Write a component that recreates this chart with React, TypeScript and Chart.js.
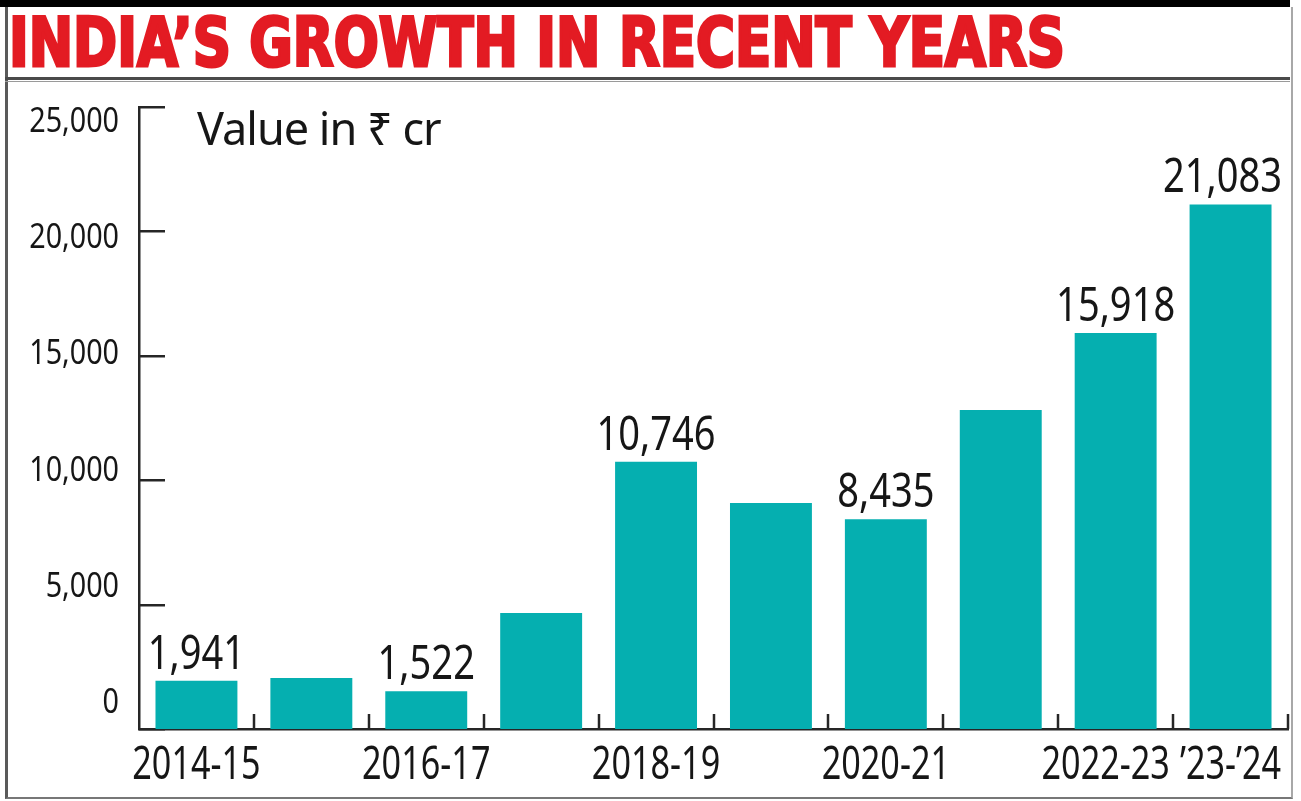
import React, { useEffect, useRef } from "react";
import { Chart, registerables } from "chart.js";

Chart.register(...registerables);

const titleText = "INDIA’S GROWTH IN RECENT YEARS";
const unitText = "Value in ₹ cr";
const categories = ["2014-15", "2015-16", "2016-17", "2017-18", "2018-19", "2019-20", "2020-21", "2021-22", "2022-23", "2023-24"];
const xTickLabels = ["2014-15", "", "2016-17", "", "2018-19", "", "2020-21", "", "2022-23", "’23-’24"];
const values = [1941, 2050, 1522, 4660, 10746, 9080, 8435, 12820, 15918, 21083];
const valueLabels = ["1,941", "", "1,522", "", "10,746", "", "8,435", "", "15,918", "21,083"];
const yTicks = [0, 5000, 10000, 15000, 20000, 25000];
const yTickLabels = ["0", "5,000", "10,000", "15,000", "20,000", "25,000"];

const SANS = "'Noto Sans', 'Open Sans', 'DejaVu Sans', sans-serif";
const INK = "#161616";
const AXIS = "#262626";

function measureNarrow(ctx: CanvasRenderingContext2D, text: string, size: number, sx: number) {
  ctx.save();
  ctx.font = `${size}px ${SANS}`;
  const w = ctx.measureText(text).width * sx;
  ctx.restore();
  return w;
}

function drawNarrow(
  ctx: CanvasRenderingContext2D,
  text: string,
  x: number,
  y: number,
  size: number,
  align: CanvasTextAlign,
  sx: number
) {
  ctx.save();
  ctx.font = `${size}px ${SANS}`;
  ctx.fillStyle = INK;
  ctx.textAlign = align;
  ctx.textBaseline = "alphabetic";
  ctx.translate(x, y);
  ctx.scale(sx, 1);
  ctx.fillText(text, 0, 0);
  ctx.restore();
}

const decorPlugin = {
  id: "decor",
  beforeDatasetsDraw(chart: any) {
    const { ctx, chartArea, scales } = chart;
    const y = scales.y;
    ctx.save();
    ctx.strokeStyle = AXIS;
    ctx.lineWidth = 2.5;
    y.ticks.forEach((t: any) => {
      const py = Math.round(y.getPixelForValue(t.value)) + 0.25;
      ctx.beginPath();
      ctx.moveTo(chartArea.left, py);
      ctx.lineTo(chartArea.left + 26, py);
      ctx.stroke();
    });
    ctx.restore();
  },
  afterDatasetsDraw(chart: any) {
    const { ctx, chartArea, scales } = chart;
    const x = scales.x;
    const yLab = scales.yLab;
    ctx.save();
    ctx.strokeStyle = AXIS;
    ctx.lineWidth = 2.5;
    for (let i = 0; i < categories.length; i++) {
      const px = Math.round(x.getPixelForValue(i + 0.5));
      ctx.beginPath();
      ctx.moveTo(px, chartArea.bottom);
      ctx.lineTo(px, chartArea.bottom - 15);
      ctx.stroke();
    }
    ctx.restore();

    // value labels above bars (kept inside the frame on the right)
    const meta = chart.getDatasetMeta(0);
    meta.data.forEach((bar: any, i: number) => {
      if (!valueLabels[i]) return;
      const w = measureNarrow(ctx, valueLabels[i], 47, 0.81);
      const cx = Math.min(bar.x, chartArea.right - 6 - w / 2);
      drawNarrow(ctx, valueLabels[i], cx, bar.y - 12, 47, "center", 0.81);
    });

    // x tick labels, nudged left when they would collide with the next one
    const xs: { i: number; cx: number; w: number }[] = [];
    categories.forEach((_c, i) => {
      if (xTickLabels[i]) xs.push({ i, cx: x.getPixelForValue(i), w: measureNarrow(ctx, xTickLabels[i], 45, 0.76) });
    });
    for (let k = xs.length - 2; k >= 0; k--) {
      const next = xs[k + 1];
      const nextLeft = next.cx - next.w / 2;
      const right = xs[k].cx + xs[k].w / 2;
      if (right > nextLeft - 10) xs[k].cx -= right - (nextLeft - 10);
    }
    xs.forEach((l) => drawNarrow(ctx, xTickLabels[l.i], l.cx, chartArea.bottom + 50, 45, "center", 0.76));

    // y tick labels (label axis)
    yTicks.forEach((v, i) => {
      drawNarrow(ctx, yTickLabels[i], chartArea.left - 20, yLab.getPixelForValue(v) + 11, 35, "right", 0.82);
    });
  },
};

export default function App() {
  const ref = useRef<HTMLCanvasElement>(null);

  useEffect(() => {
    const chart = new Chart(ref.current as HTMLCanvasElement, {
      type: "bar",
      data: {
        labels: categories,
        datasets: [
          {
            data: values,
            backgroundColor: "#05AFB0",
            barPercentage: 0.713,
            categoryPercentage: 1,
            xAxisID: "x",
            yAxisID: "y",
          },
        ],
      },
      options: {
        responsive: false,
        animation: false,
        layout: { padding: { top: 107, left: 8, right: 13, bottom: 0 } },
        plugins: { legend: { display: false }, tooltip: { enabled: false }, title: { display: false } },
        scales: {
          x: {
            type: "category",
            position: "bottom",
            grid: { display: false, drawTicks: false },
            border: { display: true, color: AXIS, width: 2.5 },
            ticks: { display: false, autoSkip: false, maxRotation: 0, minRotation: 0 },
            afterFit: (s: any) => {
              s.height = 72;
            },
          },
          y: {
            type: "linear",
            position: "left",
            min: 0,
            max: 25000,
            afterBuildTicks: (s: any) => {
              s.ticks = yTicks.map((v) => ({ value: v }));
            },
            ticks: { display: false },
            grid: { display: false, drawTicks: false },
            border: { display: true, color: AXIS, width: 2.5 },
            afterFit: (s: any) => {
              s.width = 0;
            },
          },
          yLab: {
            type: "linear",
            position: "left",
            weight: 1,
            min: -1162,
            max: 25602,
            afterBuildTicks: (s: any) => {
              s.ticks = yTicks.map((v) => ({ value: v }));
            },
            ticks: { display: false },
            grid: { display: false, drawTicks: false },
            border: { display: false },
            afterFit: (s: any) => {
              s.width = 131;
            },
          },
        },
      },
      plugins: [decorPlugin],
    } as any);
    return () => chart.destroy();
  }, []);

  const fixed: React.CSSProperties = { position: "fixed", margin: 0, padding: 0 };

  return (
    <div>
      <div style={{ ...fixed, left: 0, top: 0, width: 1301, height: 801, background: "#fff" }} />
      <div style={{ ...fixed, left: 0, top: 0, width: 1290, height: 7, background: "#000" }} />
      <div
        style={{
          ...fixed,
          left: 5,
          top: 7,
          width: 1283,
          height: 790,
          borderLeft: "3px solid #5a5a5a",
          borderRight: "2px solid #a8a8a8",
          borderBottom: "2px solid #777",
        }}
      />
      <div
        style={{
          ...fixed,
          left: 5,
          top: 77,
          width: 1285,
          height: 1,
          borderTop: "3px solid #4a4a4a",
          borderBottom: "1px solid #9a9a9a",
        }}
      />
      <div
        style={{
          ...fixed,
          left: 9,
          top: 10,
          fontFamily: "'DejaVu Sans Condensed', 'DejaVu Sans', sans-serif",
          fontWeight: 700,
          fontSize: 67,
          lineHeight: "67px",
          color: "#E31B23",
          WebkitTextStroke: "3px #E31B23",
          whiteSpace: "nowrap",
          transform: "scaleX(0.88)",
          transformOrigin: "0 0",
        }}
      >
        {titleText}
      </div>
      <canvas
        ref={ref}
        width={1301}
        height={801}
        style={{ ...fixed, left: 0, top: 0, width: 1301, height: 801, display: "block" }}
      />
      <div
        style={{
          ...fixed,
          left: 197,
          top: 105,
          fontFamily: "'Noto Sans', 'DejaVu Sans', sans-serif",
          fontSize: 45,
          lineHeight: "45px",
          letterSpacing: -1,
          color: INK,
          whiteSpace: "nowrap",
        }}
      >
        {unitText}
      </div>
    </div>
  );
}
